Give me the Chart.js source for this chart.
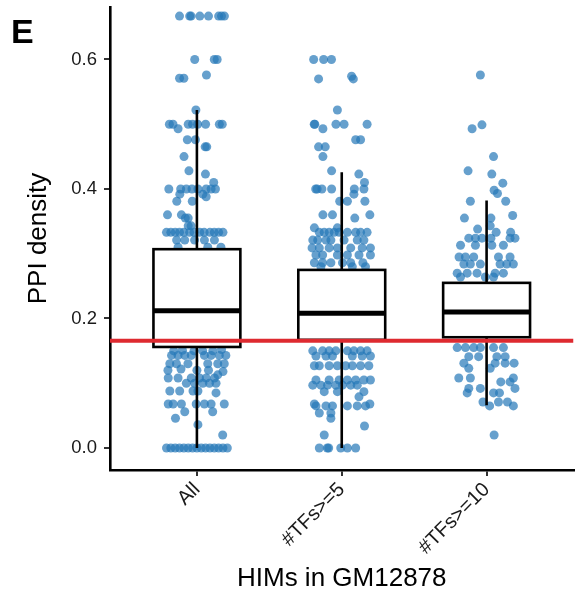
<!DOCTYPE html>
<html>
<head>
<meta charset="utf-8">
<script src="https://cdn.jsdelivr.net/npm/chart.js@4"></script>
<style>
  html, body { margin: 0; padding: 0; background: #fff; }
  #wrap { width: 578px; height: 594px; position: relative; }
</style>
</head>
<body>
<div id="wrap"><canvas id="caja"></canvas></div>
<script>
const categorias = ['All', '#TFs>=5', '#TFs>=10'];
const yTicks = [0, 0.2, 0.4, 0.6];

// cajas: cuartiles y bigotes
const bigoteInf = [0.0, 0.0, 0.066];
const q1 = [0.156, 0.167, 0.171];
const mediana = [0.212, 0.208, 0.21];
const q3 = [0.307, 0.275, 0.255];
const bigoteSup = [0.522, 0.426, 0.382];

const lineaRef = 0.1655;

// puntos: [desplazamiento jitter, valor]
const ptsAll = [
  [-0.12,0.667],[-0.05,0.667],[-0.04,0.667],[0.02,0.667],[0.08,0.667],[0.15,0.667],[0.17,0.667],[0.19,0.667],
  [-0.015,0.6],[0.12,0.6],[0.14,0.6],[-0.12,0.571],[-0.09,0.571],[0.066,0.576],[-0.007,0.522],
  [-0.19,0.5],[-0.165,0.5],[-0.06,0.5],[-0.03,0.5],[0.005,0.5],[0.06,0.5],[0.155,0.5],[0.175,0.5],[-0.13,0.493],
  [-0.066,0.476],[-0.01,0.476],[0.057,0.465],[0.068,0.465],[-0.089,0.45],[-0.055,0.428],[0.059,0.423],[0.116,0.41],
  [-0.194,0.4],[-0.112,0.4],[-0.073,0.4],[-0.034,0.4],[0.007,0.4],[0.064,0.4],[0.098,0.4],[0.128,0.4],
  [-0.118,0.392],[0.041,0.392],[0.064,0.388],[-0.139,0.381],[-0.032,0.381],[-0.203,0.36],[-0.107,0.36],
  [-0.08,0.355],[-0.06,0.355],[-0.06,0.343],[-0.04,0.343],
  [-0.21,0.333],[-0.18,0.333],[-0.15,0.333],[-0.12,0.333],[-0.09,0.333],[-0.05,0.333],[-0.02,0.333],
  [0.02,0.333],[0.05,0.333],[0.09,0.333],[0.12,0.333],[0.15,0.333],[0.18,0.333],
  [-0.14,0.321],[-0.084,0.321],[-0.016,0.321],[0.052,0.321],[0.121,0.321],[-0.13,0.31],[0.075,0.31],[0.166,0.31],
  [-0.1,0.25],[0.05,0.2],[0.12,0.18],[-0.15,0.22],[0.0,0.27],
  [-0.16,0.15],[-0.1,0.151],[-0.02,0.15],[0.04,0.15],[0.11,0.15],[0.17,0.152],
  [-0.175,0.143],[-0.13,0.143],[-0.084,0.143],[-0.039,0.143],[0.052,0.143],[0.098,0.143],[0.155,0.143],[0.2,0.143],
  [-0.187,0.13],[-0.141,0.13],[-0.062,0.13],[0.075,0.13],[0.144,0.13],[0.189,0.13],
  [-0.2,0.12],[-0.11,0.122],[0.0,0.12],[0.08,0.12],[0.18,0.118],
  [-0.198,0.108],[-0.13,0.108],[-0.039,0.108],[0.018,0.108],[0.064,0.108],[0.121,0.108],[0.144,0.113],
  [-0.073,0.1],[-0.016,0.1],[0.041,0.1],[0.087,0.1],[0.132,0.1],
  [-0.187,0.088],[-0.119,0.088],[-0.027,0.088],[0.007,0.088],[0.132,0.085],
  [-0.198,0.068],[-0.164,0.068],[-0.107,0.068],[-0.005,0.068],[0.052,0.068],[0.098,0.068],[0.189,0.068],
  [-0.084,0.056],[0.109,0.056],[-0.148,0.046],[0.007,0.036],[0.178,0.02],
  [-0.21,0],[-0.18,0],[-0.15,0],[-0.12,0],[-0.09,0],[-0.06,0],[-0.03,0],[0.0,0],
  [0.03,0],[0.06,0],[0.09,0],[0.12,0],[0.15,0],[0.18,0],[0.21,0]
];

const pts5 = [
  [-0.194,0.6],[-0.125,0.6],[-0.071,0.6],[-0.16,0.57],[0.068,0.574],[0.08,0.57],[-0.03,0.522],
  [-0.19,0.5],[-0.186,0.5],[-0.04,0.5],[0.016,0.5],[0.175,0.5],[-0.13,0.493],
  [0.096,0.476],[0.13,0.476],[-0.16,0.465],[-0.114,0.465],[-0.13,0.45],[-0.07,0.428],[0.118,0.423],[0.157,0.41],
  [-0.18,0.4],[-0.17,0.4],[-0.137,0.4],[-0.07,0.4],[0.087,0.4],[0.153,0.4],[0.084,0.392],
  [-0.014,0.381],[0.039,0.381],[0.16,0.381],[-0.13,0.36],[-0.064,0.36],[0.194,0.36],[0.09,0.355],
  [-0.189,0.34],[-0.03,0.34],
  [-0.155,0.333],[-0.121,0.333],[-0.087,0.333],[-0.052,0.333],[-0.018,0.333],[0.039,0.333],[0.096,0.333],[0.13,0.333],[0.175,0.333],
  [-0.2,0.321],[-0.166,0.321],[-0.109,0.321],[-0.075,0.321],[0.016,0.321],[0.107,0.321],[0.153,0.321],
  [-0.205,0.309],[-0.155,0.309],[-0.087,0.309],[-0.03,0.309],[0.062,0.309],[0.141,0.309],[0.198,0.309],
  [-0.178,0.298],[-0.132,0.298],[-0.03,0.298],[0.039,0.298],[0.119,0.298],[0.198,0.298],
  [-0.189,0.286],[-0.132,0.286],[-0.075,0.286],[0.005,0.286],[0.062,0.286],[0.146,0.286],
  [-0.144,0.28],[0.073,0.28],[0.164,0.28],
  [-0.1,0.24],[0.05,0.2],[0.15,0.22],[-0.05,0.18],
  [-0.2,0.15],[-0.132,0.15],[-0.087,0.15],[-0.041,0.15],[0.039,0.15],[0.084,0.15],[0.13,0.15],[0.175,0.15],
  [-0.178,0.142],[-0.109,0.142],[-0.064,0.142],[0.073,0.142],[0.141,0.142],[0.198,0.142],
  [-0.189,0.127],[-0.155,0.127],[-0.087,0.127],[-0.03,0.127],[0.027,0.127],[0.073,0.127],[0.13,0.127],[0.187,0.127],
  [-0.178,0.105],[-0.087,0.105],[-0.018,0.105],[0.039,0.105],[0.096,0.105],[0.153,0.105],[0.198,0.105],
  [-0.2,0.097],[-0.144,0.097],[-0.098,0.097],[-0.041,0.097],[0.005,0.097],[0.062,0.097],[0.107,0.097],
  [-0.121,0.087],[-0.03,0.087],[0.153,0.087],[0.119,0.079],[-0.189,0.068],[0.194,0.068],
  [-0.178,0.065],[-0.109,0.065],[-0.064,0.065],[0.039,0.065],[0.107,0.065],[0.164,0.065],
  [-0.155,0.054],[-0.075,0.054],[-0.075,0.046],[0.157,0.034],[-0.121,0.02],
  [-0.155,0],[-0.1,0],[-0.09,0],[-0.007,0],[0.039,0],[0.096,0]
];

const pts10 = [
  [-0.043,0.576],[-0.032,0.499],[-0.1,0.493],[0.048,0.45],[-0.128,0.428],[0.036,0.423],[0.112,0.409],
  [0.052,0.398],[0.075,0.393],[-0.112,0.381],[0.132,0.381],[0.18,0.359],[-0.153,0.355],[0.03,0.355],
  [0.025,0.343],[-0.062,0.338],[0.066,0.333],[0.166,0.333],
  [-0.123,0.324],[-0.077,0.324],[-0.032,0.324],[0.03,0.324],[0.162,0.324],[0.196,0.324],
  [-0.18,0.313],[-0.077,0.313],[0.036,0.313],[0.116,0.313],
  [-0.19,0.295],[-0.146,0.295],[-0.089,0.295],[0.082,0.295],[0.162,0.295],
  [-0.157,0.284],[-0.112,0.284],[-0.043,0.284],[0.093,0.284],[0.139,0.284],[0.185,0.284],
  [-0.203,0.27],[-0.134,0.27],[-0.066,0.27],[0.059,0.27],[0.116,0.27],
  [-0.18,0.264],[-0.009,0.264],[0.048,0.264],
  [0.1,0.22],[-0.1,0.2],
  [-0.203,0.155],[-0.146,0.155],[-0.089,0.155],[-0.043,0.155],[0.048,0.155],[0.116,0.155],
  [-0.123,0.141],[-0.055,0.141],[0.071,0.141],[0.128,0.141],
  [-0.157,0.131],[0.059,0.131],[0.128,0.131],[0.19,0.131],
  [-0.123,0.123],[0.025,0.123],[-0.192,0.108],[-0.112,0.108],[0.185,0.108],[0.098,0.102],[0.162,0.102],
  [-0.123,0.092],[-0.043,0.092],[0.196,0.092],[-0.134,0.085],[0.048,0.085],[0.089,0.085],
  [-0.025,0.071],[0.082,0.071],[0.144,0.071],[0.021,0.065],[0.185,0.065],[0.052,0.02]
];

const grupos = [ptsAll, pts5, pts10];
const fuente = "'Liberation Sans', Arial, Helvetica, sans-serif";

const cajas = {
  id: 'cajas',
  afterDatasetsDraw(chart) {
    const ctx = chart.ctx;
    const xs = chart.scales.x, ys = chart.scales.y;
    const area = chart.chartArea;
    ctx.save();
    ctx.beginPath();
    ctx.rect(area.left, area.top, area.right - area.left, area.bottom - area.top);
    ctx.clip();
    categorias.forEach((c, i) => {
      const cx = xs.getPixelForValue(i + 1);
      const l = xs.getPixelForValue(i + 1 - 0.3);
      const r = xs.getPixelForValue(i + 1 + 0.3);
      ctx.strokeStyle = '#000';
      ctx.lineWidth = 2.6;
      ctx.beginPath();
      ctx.moveTo(cx, ys.getPixelForValue(bigoteSup[i]));
      ctx.lineTo(cx, ys.getPixelForValue(q3[i]));
      ctx.moveTo(cx, ys.getPixelForValue(q1[i]));
      ctx.lineTo(cx, ys.getPixelForValue(bigoteInf[i]));
      ctx.stroke();
      const t = ys.getPixelForValue(q3[i]);
      const b = ys.getPixelForValue(q1[i]);
      ctx.fillStyle = '#fff';
      ctx.fillRect(l, t, r - l, b - t);
      ctx.strokeRect(l, t, r - l, b - t);
      ctx.lineWidth = 5;
      ctx.beginPath();
      const m = ys.getPixelForValue(mediana[i]);
      ctx.moveTo(l, m);
      ctx.lineTo(r, m);
      ctx.stroke();
    });
    const yr = ys.getPixelForValue(lineaRef);
    ctx.strokeStyle = '#DE2A30';
    ctx.lineWidth = 4;
    ctx.beginPath();
    ctx.moveTo(area.left, yr);
    ctx.lineTo(area.right, yr);
    ctx.stroke();
    ctx.restore();

    ctx.save();
    ctx.fillStyle = '#000';
    ctx.font = 'bold 34px ' + fuente;
    ctx.textBaseline = 'alphabetic';
    ctx.fillText('E', 11, 43);
    ctx.restore();
  }
};

new Chart(document.getElementById('caja'), {
  type: 'scatter',
  data: {
    datasets: grupos.map((g, i) => ({
      label: categorias[i],
      data: g.map(p => ({ x: i + 1 + p[0], y: p[1] })),
      backgroundColor: 'rgba(37,120,184,0.7)',
      borderWidth: 0,
      pointRadius: 4.5,
      pointHoverRadius: 4.5
    }))
  },
  options: {
    responsive: true,
    maintainAspectRatio: false,
    animation: false,
    layout: { padding: { top: 7, right: 0, left: 0, bottom: 0 } },
    plugins: { legend: { display: false }, tooltip: { enabled: false } },
    scales: {
      x: {
        type: 'linear',
        min: 0.4,
        max: 3.6,
        afterBuildTicks: s => { s.ticks = categorias.map((c, i) => ({ value: i + 1 })); },
        afterFit: s => { s.height = 124; s.paddingLeft = 0; s.paddingRight = 0; },
        border: { display: true, color: '#000', width: 2.6 },
        grid: { display: true, drawOnChartArea: false, drawTicks: true, tickLength: 6, color: '#333', lineWidth: 2 },
        ticks: {
          minRotation: 45, maxRotation: 45, autoSkip: false, padding: 2,
          color: '#1a1a1a', font: { family: fuente, size: 20 },
          callback: v => categorias[Math.round(v) - 1]
        },
        title: {
          display: true, text: 'HIMs in GM12878', color: '#000',
          font: { family: fuente, size: 26 }, padding: { top: 0, bottom: 0 }
        }
      },
      y: {
        min: -0.034,
        max: 0.681,
        afterBuildTicks: s => { s.ticks = yTicks.map(v => ({ value: v })); },
        afterFit: s => { s.width = 110; s.paddingTop = 0; s.paddingBottom = 0; },
        border: { display: true, color: '#000', width: 2.6 },
        grid: { display: true, drawOnChartArea: false, drawTicks: true, tickLength: 6, color: '#333', lineWidth: 2 },
        ticks: {
          padding: 7, color: '#1a1a1a', font: { family: fuente, size: 18.5 },
          callback: v => v.toFixed(1)
        },
        title: {
          display: true, text: 'PPI density', color: '#000',
          font: { family: fuente, size: 26 }, padding: { top: 23, bottom: 0 }
        }
      }
    }
  },
  plugins: [cajas]
});
</script>
</body>
</html>
